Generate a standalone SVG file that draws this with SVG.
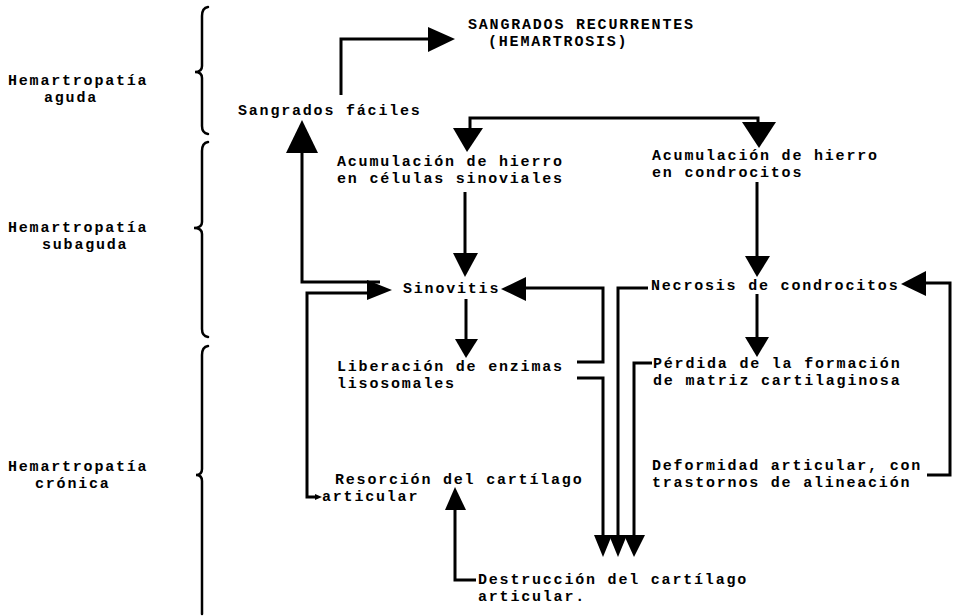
<svg xmlns="http://www.w3.org/2000/svg" width="953" height="616" viewBox="0 0 953 616">
<style>
text{font-family:"Liberation Mono","DejaVu Sans Mono",monospace;font-size:15px;letter-spacing:1.8px;fill:#000;font-weight:bold}
.ln{fill:none;stroke:#000;stroke-width:3;stroke-linejoin:miter;stroke-linecap:butt}
.br{fill:none;stroke:#000;stroke-width:2.5;stroke-linecap:round}
.ah{fill:#000;stroke:none}
</style>
<rect width="953" height="616" fill="#fff"/>
<g id="phases">
<g id="phase-aguda">
<text x="8" y="85">Hemartropatía</text>
<text x="44" y="102">aguda</text>
<path class="br" d="M208 7 Q202 8 202 16 L202 66 Q202 72 195 72 Q202 72 202 78 L202 126 Q202 133 208 134"/>
</g>
<g id="phase-subaguda">
<text x="8" y="232">Hemartropatía</text>
<text x="42" y="249">subaguda</text>
<path class="br" d="M208 142 Q202 143 202 151 L202 222 Q202 228 194 228 Q202 228 202 234 L202 329 Q202 336 208 337"/>
</g>
<g id="phase-cronica">
<text x="8" y="471">Hemartropatía</text>
<text x="35" y="488">crónica</text>
<path class="br" d="M208 346 Q202 347 202 355 L202 469 Q202 475 196 475 Q202 475 202 481 L202 614"/>
</g>
</g>
<g id="n-sangrados"><text x="238" y="115">Sangrados fáciles</text></g>
<g id="n-recurrentes"><text x="468" y="29">SANGRADOS RECURRENTES</text><text x="488" y="46">(HEMARTROSIS)</text></g>
<g id="n-acum-sin"><text x="337" y="166">Acumulación de hierro</text><text x="337" y="183">en células sinoviales</text></g>
<g id="n-acum-cond"><text x="652" y="160">Acumulación de hierro</text><text x="652" y="177">en condrocitos</text></g>
<g id="n-sinovitis"><text x="403" y="293">Sinovitis</text></g>
<g id="n-necrosis"><text x="651" y="290">Necrosis de condrocitos</text></g>
<g id="n-liberacion"><text x="337" y="371">Liberación de enzimas</text><text x="337" y="388">lisosomales</text></g>
<g id="n-perdida"><text x="653" y="368">Pérdida de la formación</text><text x="653" y="385">de matriz cartilaginosa</text></g>
<g id="n-resorcion"><text x="335" y="484">Resorción del cartílago</text><text x="322" y="501">articular</text></g>
<g id="n-deformidad"><text x="652" y="470">Deformidad articular, con</text><text x="652" y="487">trastornos de alineación</text></g>
<g id="n-destruccion"><text x="478" y="584">Destrucción del cartílago</text><text x="478" y="601">articular.</text></g>
<g id="connectors">
<path class="ln" d="M341 95 L341 39 L432 39"/>
<polygon class="ah" points="428,27 455,39 428,52"/>
<path class="ln" d="M470 130 L470 118 L758 118 L758 124"/>
<polygon class="ah" points="453,128 483,128 467,152"/>
<polygon class="ah" points="742,122 776,122 759,148"/>
<path class="ln" d="M465 192 L465 256"/>
<polygon class="ah" points="453,253 478,253 465,277"/>
<path class="ln" d="M466 299 L466 342"/>
<polygon class="ah" points="455,339 478,339 466,358"/>
<path class="ln" d="M757 182 L757 259"/>
<polygon class="ah" points="745,256 770,256 757,277"/>
<path class="ln" d="M757 294 L757 340"/>
<polygon class="ah" points="745,337 769,337 757,357"/>
<path class="ln" d="M380 282 L302 282 L302 150"/>
<polygon class="ah" points="286,153 318,153 302,120"/>
<path class="ln" d="M316 497 L307 497 L307 293 L370 293"/>
<polygon class="ah" points="367,280 392,290 367,300"/>
<polygon class="ah" points="315,494 322,497 315,500"/>
<path class="ln" d="M577 362 L603 362 L603 288 L522 288"/>
<polygon class="ah" points="526,277 501,289 526,301"/>
<path class="ln" d="M927 475 L950 475 L950 283 L922 283"/>
<polygon class="ah" points="926,271 901,284 926,296"/>
<path class="ln" d="M577 378 L603 378 L603 538"/>
<path class="ln" d="M648 288 L618 288 L618 538"/>
<path class="ln" d="M652 363 L634 363 L634 538"/>
<polygon class="ah" points="594,535 612,535 603,557"/>
<polygon class="ah" points="609,535 627,535 618,557"/>
<polygon class="ah" points="624,535 645,535 634,557"/>
<path class="ln" d="M476 580 L455 580 L455 506"/>
<polygon class="ah" points="445,510 466,510 455,487"/>
</g>
</svg>
